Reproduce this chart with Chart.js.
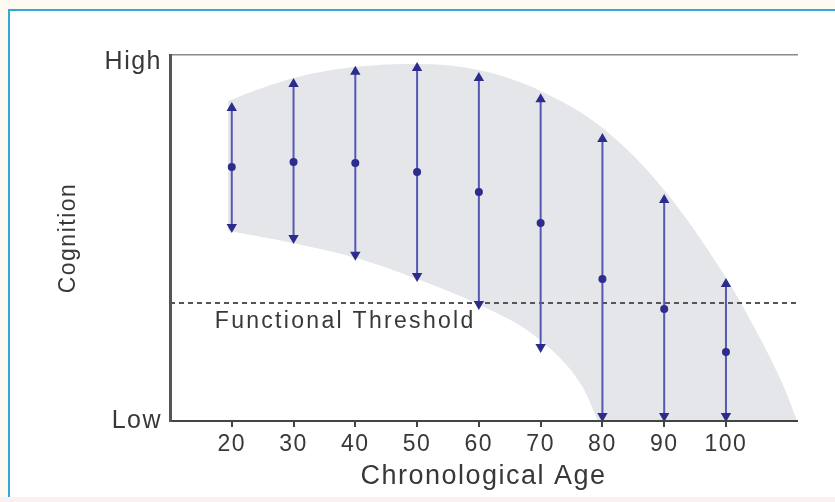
<!DOCTYPE html>
<html><head><meta charset="utf-8">
<script src="https://cdn.jsdelivr.net/npm/chart.js@4.4.0/dist/chart.umd.min.js"></script>
<style>
html,body{margin:0;padding:0;width:835px;height:502px;overflow:hidden;background:#fdfbf1;}
#frame{position:absolute;left:8px;top:9px;width:900px;height:486px;background:#fff;border-left:2px solid #35a7df;border-top:2px solid #35a7df;}
#strip{position:absolute;left:0;top:497px;width:835px;height:5px;background:#fbf0f0;}
#wrap{position:absolute;left:0;top:0;width:835px;height:502px;}
</style></head><body>
<div id="frame"></div><div id="strip"></div>
<div id="wrap"><canvas id="c" width="835" height="502"></canvas></div>
<script>
// ---- data ----
const ages      = [20, 30, 40, 50, 60, 70, 80, 90, 100];
const rangeHigh = [87.2, 93.9, 97.3, 98.4, 95.6, 89.7, 78.6, 61.6, 38.2];
const rangeMid  = [70.8, 72.2, 71.9, 69.4, 63.8, 55.2, 39.6, 31.2, 19.2];
const rangeLow  = [54.1, 51.0, 46.3, 40.4, 32.6, 20.6, 1.4, 1.4, 1.4];
const bandUpperX = [19.4, 24.9, 30, 40, 50, 60, 70, 80, 90, 100, 105.5, 109.6, 111.5];
const bandUpperY = [89.2, 92.8, 95.6, 98.7, 99.5, 97.8, 92.0, 81.7, 64.4, 39.9, 23.1, 8.6, 0];
const bandLowerX = [19.4, 29.9, 40.2, 50, 60.2, 69.9, 76.8, 79.3];
const bandLowerY = [53.0, 49.6, 45.4, 39.6, 32.3, 22.6, 9.5, 0];
const threshold = 32.9;
const thresholdLabel = 'Functional Threshold';
const thresholdLabelX = 17.25;
const xMin = 10, xMax = 111.5;
const yMin = 0, yMax = 102;
const xTickValues = [20, 30, 40, 50, 60, 70, 80, 90, 100];
const yTickValues = [0, 100];
const yTickLabels = ['Low', 'High'];

// ---- styling ----
const FAM = "'Liberation Sans', Arial, Helvetica, sans-serif";
const TXT = '#383838';
const lineBlue = '#5656b4', navy = '#2c2c8c';

const datasets = [];
ages.forEach((a, i) => {
  datasets.push({
    data: [{x: a, y: rangeLow[i]}, {x: a, y: rangeMid[i]}, {x: a, y: rangeHigh[i]}],
    borderColor: lineBlue, borderWidth: 2, fill: false, tension: 0,
    pointStyle: ['triangle', 'circle', 'triangle'],
    pointRotation: [180, 0, 0],
    pointRadius: [6, 4, 6],
    pointBackgroundColor: navy, pointBorderColor: navy, pointBorderWidth: 0
  });
});
datasets.push({
  data: [{x: xMin, y: threshold}, {x: xMax, y: threshold}],
  borderColor: '#555', borderWidth: 2, borderDash: [5, 4], pointRadius: 0, fill: false
});
datasets.push({
  data: bandLowerX.map((x, i) => ({x, y: bandLowerY[i]})),
  borderColor: 'rgba(0,0,0,0)', borderWidth: 0, backgroundColor: '#ffffff',
  fill: 'origin', pointRadius: 0, cubicInterpolationMode: 'monotone'
});
datasets.push({
  data: bandUpperX.map((x, i) => ({x, y: bandUpperY[i]})),
  borderColor: 'rgba(0,0,0,0)', borderWidth: 0, backgroundColor: '#e4e6e9',
  fill: 'origin', pointRadius: 0, cubicInterpolationMode: 'monotone'
});

const spacingPlugin = {
  id: 'spacing',
  beforeDraw(chart) { chart.ctx.letterSpacing = '1.5px'; },
  beforeLayout(chart) { chart.ctx.letterSpacing = '1.5px'; }
};
const labelPlugin = {
  id: 'thLabel',
  afterDatasetsDraw(chart) {
    const {ctx, scales: {x, y}} = chart;
    ctx.save();
    ctx.letterSpacing = '2.3px';
    ctx.font = "23px " + FAM;
    ctx.fillStyle = TXT;
    ctx.textAlign = 'left';
    ctx.textBaseline = 'alphabetic';
    ctx.fillText(thresholdLabel, x.getPixelForValue(thresholdLabelX), y.getPixelForValue(threshold) + 25);
    ctx.restore();
  }
};

new Chart(document.getElementById('c'), {
  type: 'line',
  data: {datasets},
  plugins: [spacingPlugin, labelPlugin],
  options: {
    responsive: false, animation: false,
    layout: {padding: {top: 55, right: 38, left: 0, bottom: 0}},
    plugins: {legend: {display: false}, tooltip: {enabled: false}},
    scales: {
      x: {
        type: 'linear', min: xMin, max: xMax,
        afterBuildTicks: s => { s.ticks = xTickValues.map(v => ({value: v})); },
        afterFit: s => { s.height = 81; },
        ticks: {font: {family: FAM, size: 23}, color: TXT, padding: 4, autoSkip: false, maxRotation: 0, z: 1},
        grid: {display: true, drawOnChartArea: false, drawTicks: true, tickLength: 6, color: '#444', lineWidth: 2, z: 1},
        border: {display: true, color: '#444', width: 2, z: 1},
        title: {display: true, text: 'Chronological Age', font: {family: FAM, size: 27}, color: TXT, padding: {top: 0, bottom: 9}}
      },
      x2: {
        type: 'linear', position: 'top', min: xMin, max: xMax,
        ticks: {display: false}, grid: {display: false, drawTicks: false},
        border: {display: true, color: '#8a8a8a', width: 1.5, z: 1},
        afterFit: s => { s.height = 0; }
      },
      y: {
        type: 'linear', min: yMin, max: yMax,
        afterBuildTicks: s => { s.ticks = yTickValues.map(v => ({value: v})); },
        afterFit: s => { s.width = 170; },
        ticks: {font: {family: FAM, size: 25}, color: TXT, padding: 8,
                callback: v => yTickLabels[yTickValues.indexOf(v)]},
        grid: {display: false, drawTicks: false},
        border: {display: true, color: '#555', width: 3, z: 1},
        title: {display: true, text: 'Cognition', font: {family: FAM, size: 23}, color: TXT, padding: {top: 55, bottom: 0}}
      }
    }
  }
});
</script>
</body></html>
